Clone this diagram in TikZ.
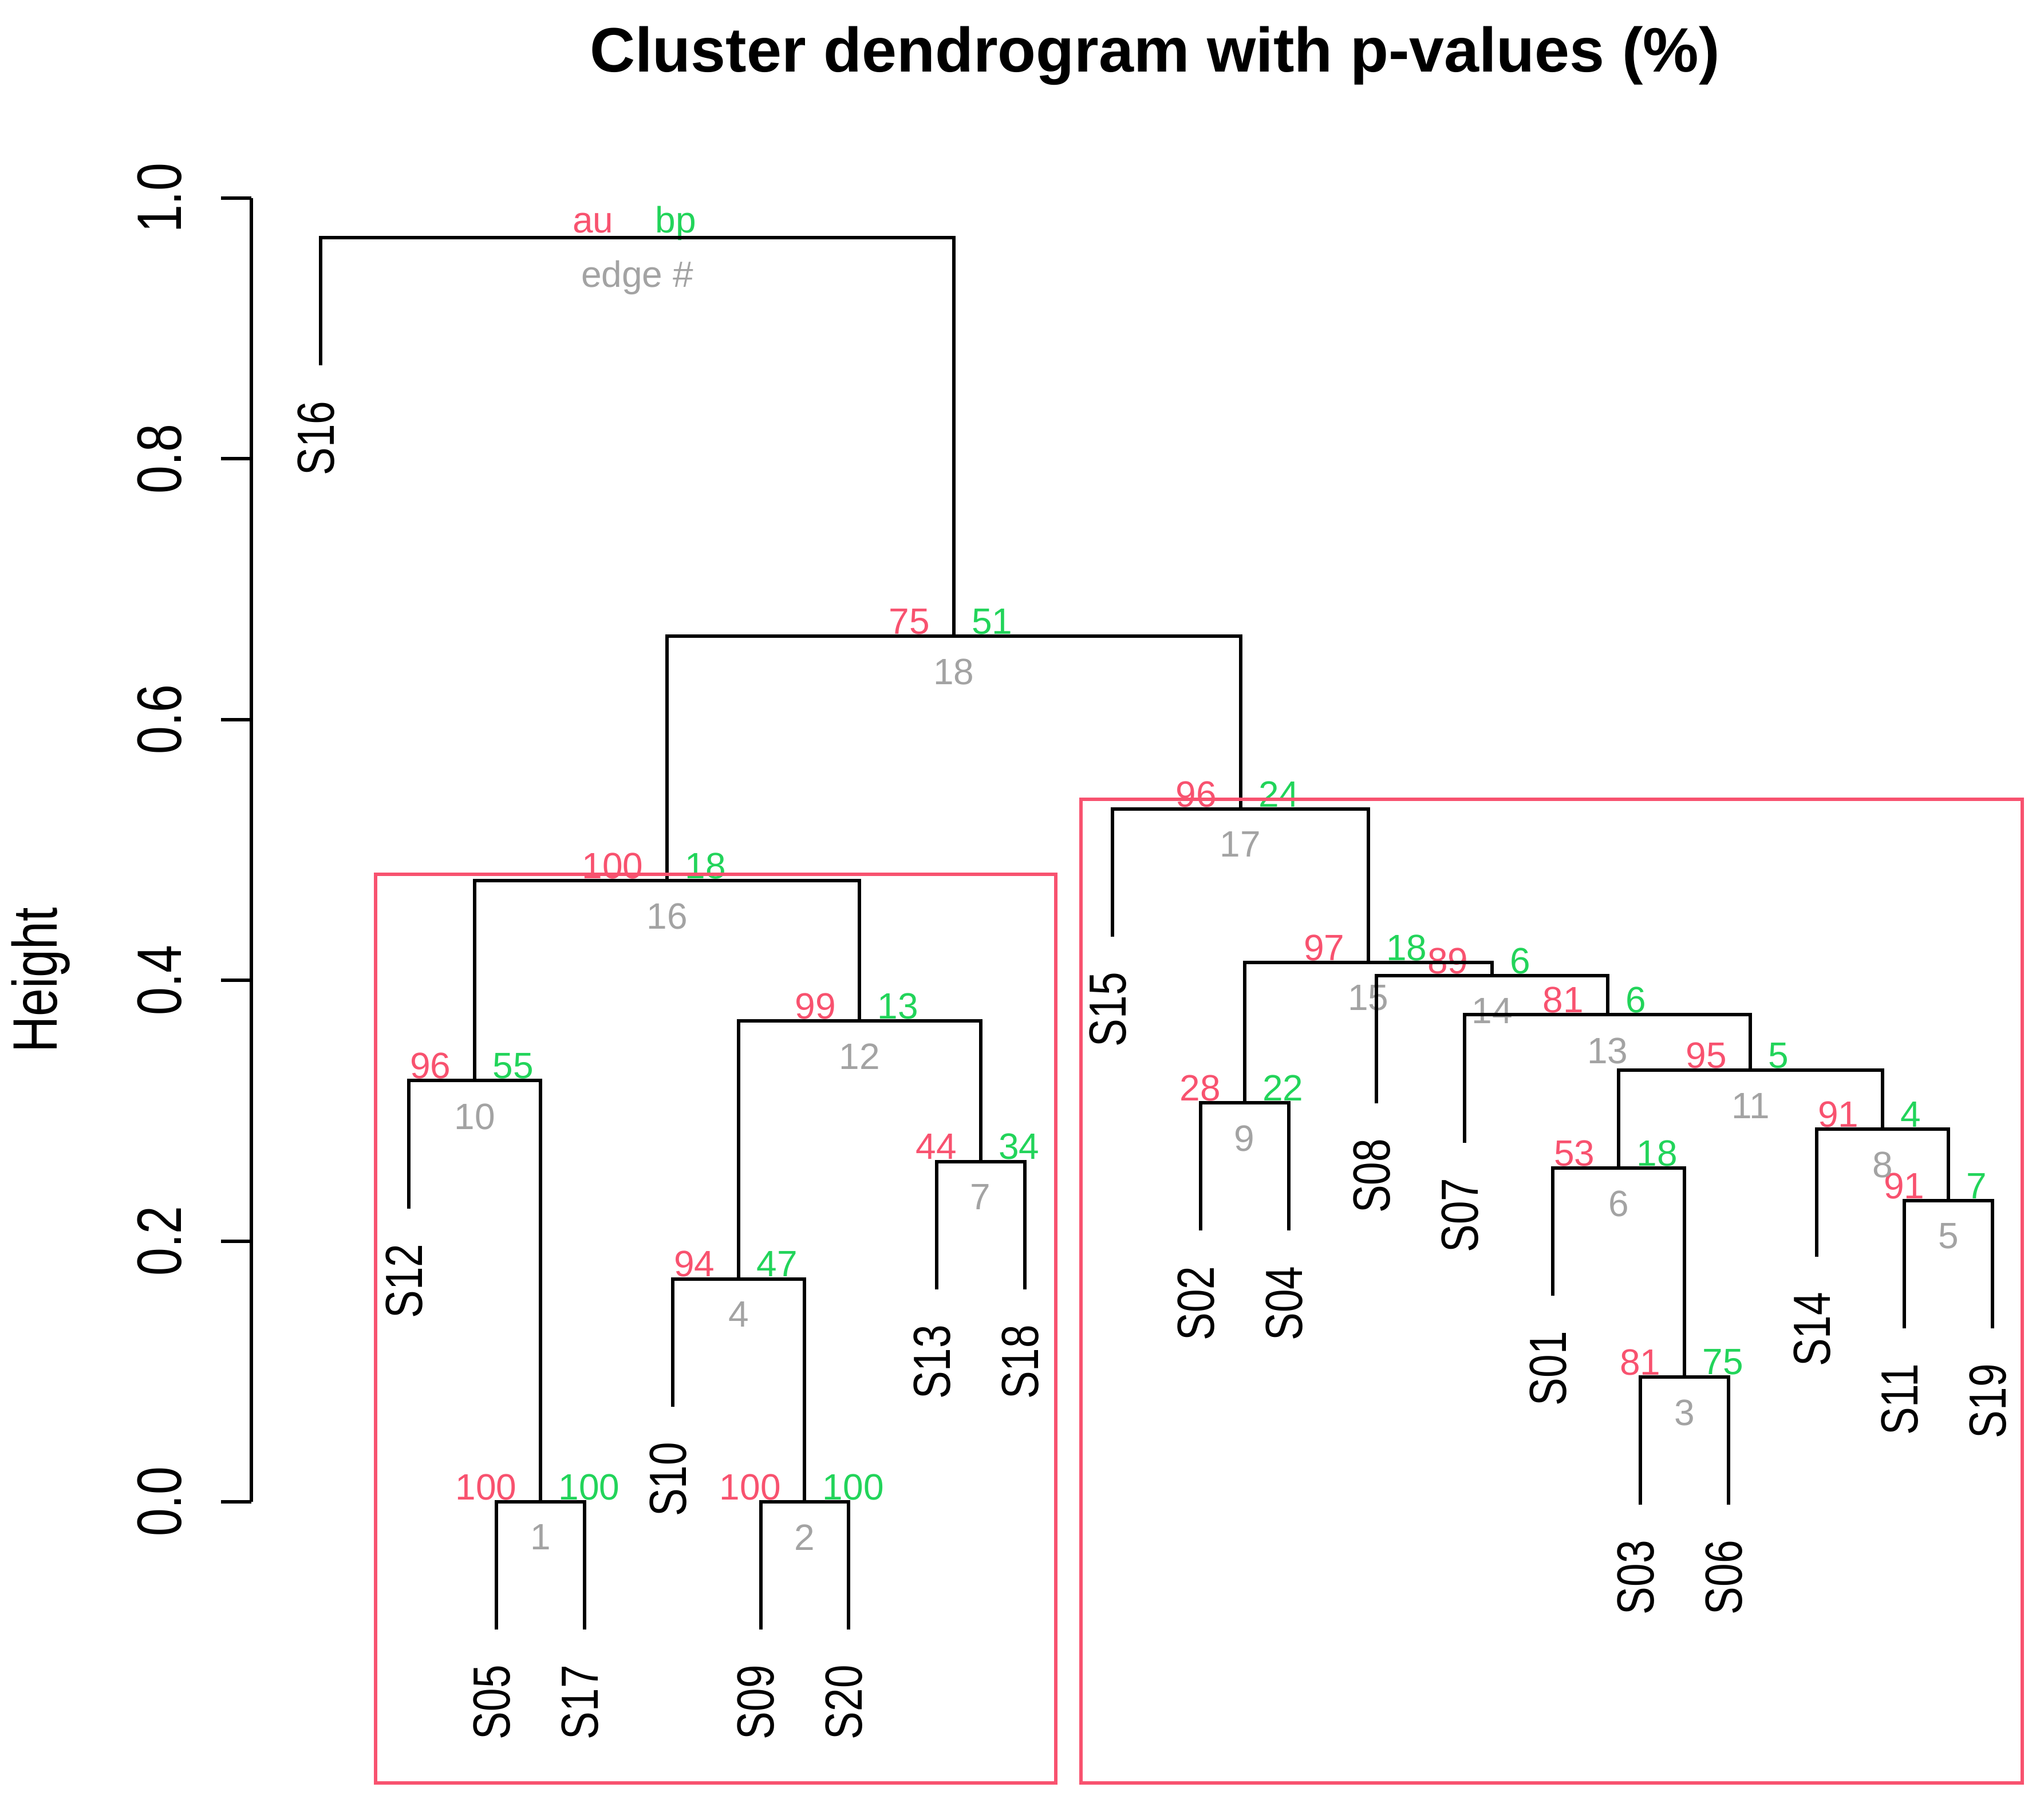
\documentclass[tikz,border=0pt]{standalone}
\usepackage{fontspec}
\setmainfont{Liberation Sans}
\newfontfamily\narrowfont[FakeStretch=0.8]{Liberation Sans}
\definecolor{aured}{HTML}{F8526F}
\definecolor{bpgreen}{HTML}{22D45A}
\definecolor{edgegray}{HTML}{A3A3A3}

\begin{document}
\begin{tikzpicture}[x=0.675cm,y=10cm,line width=0.75pt,
 leaf/.style={rotate=90,anchor=east,inner sep=0pt,font=\narrowfont\fontsize{11.4}{13}\selectfont},
 ticklab/.style={rotate=90,anchor=base,inner sep=0pt,font=\narrowfont\fontsize{13.7}{16}\selectfont},
 au/.style={anchor=east,inner sep=0pt,text=aured,font=\fontsize{8}{9}\selectfont},
 bp/.style={anchor=west,inner sep=0pt,text=bpgreen,font=\fontsize{8}{9}\selectfont},
 edgenum/.style={anchor=north,inner sep=0pt,text=edgegray,font=\fontsize{8}{9}\selectfont},
 pvbox/.style={draw=aured}]
\useasboundingbox (-2.6444,-0.234) rectangle (20.5852,1.152);

% title and axis
\node[anchor=base,font=\bfseries\fontsize{13.7}{16}\selectfont] (title) at (10.48,1.097) {Cluster dendrogram with p-values (\%)};
\node[ticklab] (ylab) at (-1.994,0.4) {Height};
\draw (0.2148,0) -- (0.2148,1);
\foreach \h [count=\k] in {0.0,0.2,0.4,0.6,0.8,1.0} {
 \draw (0.2148,\h) -- (-0.1333,\h);
 \node[ticklab] (tick\k) at (-0.5867,\h) {\h};
}

% leaves: position, name, end of the hanging line
\foreach \i/\s/\h in {1/S16/0.8716,2/S12/0.225,3/S05/-0.098,4/S17/-0.098,5/S10/0.073,
 6/S09/-0.098,7/S20/-0.098,8/S13/0.163,9/S18/0.163,10/S15/0.4334,11/S02/0.208,12/S04/0.208,
 13/S08/0.3057,14/S07/0.2755,15/S01/0.158,16/S03/-0.0023,17/S06/-0.0023,18/S14/0.188,
 19/S11/0.133,20/S19/0.133} {
 \coordinate (\s) at (\i,\h);
 \node[leaf] (l\s) at ([shift={(-0.035cm,-0.26cm)}]\s) {\s};
}

% merges with au / bp / edge #
\foreach \e/\x/\h/\a/\b/\n in {1/3.5/0/100/100/1,2/6.5/0/100/100/2,3/16.5/0.0957/81/75/3,
 4/5.75/0.171/94/47/4,5/19.5/0.231/91/7/5,6/15.75/0.256/53/18/6,7/8.5/0.261/44/34/7,
 8/18.75/0.286/91/4/8,9/11.5/0.306/28/22/9,10/2.75/0.323/96/55/10,11/17.25/0.331/95/5/11,
 12/7.125/0.369/99/13/12,13/15.625/0.3735/81/6/13,14/14.3125/0.4037/89/6/14,
 15/12.90625/0.4138/97/18/15,16/4.9375/0.4766/100/18/16,17/11.453/0.5314/96/24/17,
 18/8.195/0.664/75/51/18,19/4.598/0.9696/au/bp/edge \#} {
 \coordinate (n\e) at (\x,\h);
 \node[au] (au\e) at ([shift={(-0.17cm,0.113cm)}]n\e) {\a};
 \node[bp] (bp\e) at ([shift={(0.125cm,0.113cm)}]n\e) {\b};
 \node[edgenum] (ed\e) at ([yshift=-0.162cm]n\e) {\n};
}

\draw (S05) |- (n1) -| (S17);
\draw (S09) |- (n2) -| (S20);
\draw (S03) |- (n3) -| (S06);
\draw (S10) |- (n4) -| (n2);
\draw (S11) |- (n5) -| (S19);
\draw (S01) |- (n6) -| (n3);
\draw (S13) |- (n7) -| (S18);
\draw (S14) |- (n8) -| (n5);
\draw (S02) |- (n9) -| (S04);
\draw (S12) |- (n10) -| (n1);
\draw (n6) |- (n11) -| (n8);
\draw (n4) |- (n12) -| (n7);
\draw (S07) |- (n13) -| (n11);
\draw (S08) |- (n14) -| (n13);
\draw (n9) |- (n15) -| (n14);
\draw (n10) |- (n16) -| (n12);
\draw (S15) |- (n17) -| (n15);
\draw (n16) |- (n18) -| (n17);
\draw (S16) |- (n19) -| (n18);

% clusters with high au
\draw[pvbox] (1.622,0.4813) rectangle (9.351,-0.2155);
\draw[pvbox] (9.643,0.539) rectangle (20.335,-0.2155);
\end{tikzpicture}
\end{document}
